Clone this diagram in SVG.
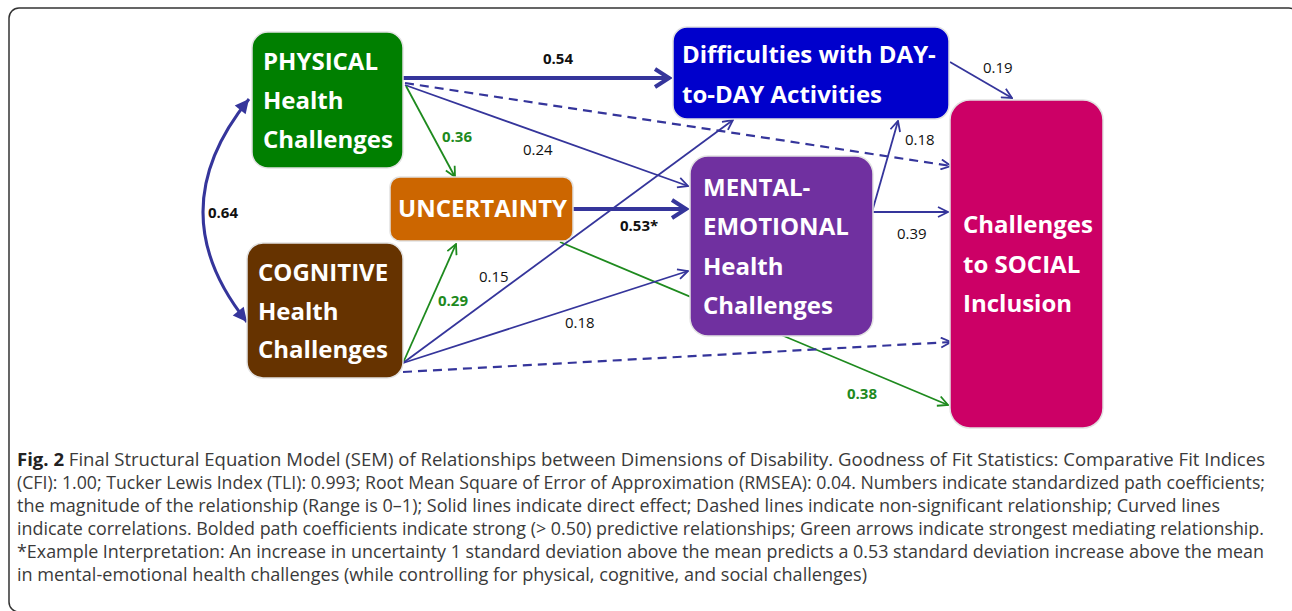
<svg xmlns="http://www.w3.org/2000/svg" width="1292" height="611" viewBox="0 0 1292 611">
<style>
.nt{font-family:"Open Sans","Liberation Sans",sans-serif;font-weight:700;font-size:24px;fill:#ffffff}
.lb{font-family:"Open Sans","Liberation Sans",sans-serif;font-size:15px;fill:#111}
.b{font-weight:700}
.g{fill:#1E8A1E}
.cap{font-family:"Open Sans","Liberation Sans",sans-serif;font-size:17.5px;fill:#3a3a3a}
.ln{fill:none;stroke:#35359B;stroke-width:1.8}
.th{fill:none;stroke:#35359B;stroke-width:4}
.ds{fill:none;stroke:#35359B;stroke-width:2.2;stroke-dasharray:9 6}
.gr{fill:none;stroke:#1E8A1E;stroke-width:1.8}
.box{stroke:#e2e2e2;stroke-width:1.5}
</style>
<defs>
<marker id="a" viewBox="0 0 12 12" refX="11" refY="6" markerWidth="12" markerHeight="12" markerUnits="userSpaceOnUse" orient="auto"><path d="M1,1 L11,6 L1,11" fill="none" stroke="#35359B" stroke-width="1.8"/></marker>
<marker id="ag" viewBox="0 0 12 12" refX="11" refY="6" markerWidth="12" markerHeight="12" markerUnits="userSpaceOnUse" orient="auto"><path d="M1,1 L11,6 L1,11" fill="none" stroke="#1E8A1E" stroke-width="1.8"/></marker>
<marker id="at" viewBox="0 0 20 22" refX="18" refY="11" markerWidth="20" markerHeight="22" markerUnits="userSpaceOnUse" orient="auto"><path d="M3,2 L17,11 L3,20" fill="none" stroke="#35359B" stroke-width="4"/></marker>
<marker id="ac" viewBox="0 0 16 16" refX="15" refY="8" markerWidth="16" markerHeight="16" markerUnits="userSpaceOnUse" orient="auto-start-reverse"><path d="M1,1 L15,8 L1,15 Z" fill="#35359B"/></marker>
</defs>
<rect x="9" y="8" width="1290" height="604" rx="10" fill="#ffffff" stroke="#333" stroke-width="1.5"/>

<g id="connectors">
<path class="th" d="M403,78 L670,78" marker-end="url(#at)"/>
<path class="ds" d="M405,83 L951,166" marker-end="url(#a)"/>
<path class="ln" d="M405,85 L688,186" marker-end="url(#a)"/>
<path class="gr" d="M406,86 L455,177" marker-end="url(#ag)"/>
<path class="th" d="M573,209 L687,209" marker-end="url(#at)"/>
<path class="gr" d="M560,242 L948,405" marker-end="url(#ag)"/>
<path class="gr" d="M403,363 L456,244" marker-end="url(#ag)"/>
<path class="ln" d="M403,363 L733,120" marker-end="url(#a)"/>
<path class="ln" d="M403,363 L688,271" marker-end="url(#a)"/>
<path class="ds" d="M403,372 L951,342" marker-end="url(#a)"/>
<path class="ln" d="M872,212 L898,121" marker-end="url(#a)"/>
<path class="ln" d="M872,212 L948,212" marker-end="url(#a)"/>
<path class="ln" d="M950,62 L1012,98" marker-end="url(#a)"/>
<path d="M249,99 Q158,211 247,322" fill="none" stroke="#35359B" stroke-width="3" marker-start="url(#ac)" marker-end="url(#ac)"/>
</g>

<g id="labels">
<text class="lb b" x="543" y="64">0.54</text>
<text class="lb b g" x="442" y="142">0.36</text>
<text class="lb" x="523" y="155">0.24</text>
<text class="lb b" x="208" y="218">0.64</text>
<text class="lb b" x="620" y="231">0.53*</text>
<text class="lb" x="479" y="282">0.15</text>
<text class="lb b g" x="438" y="306">0.29</text>
<text class="lb" x="565" y="328">0.18</text>
<text class="lb" x="905" y="145">0.18</text>
<text class="lb" x="983" y="73">0.19</text>
<text class="lb" x="897" y="239">0.39</text>
<text class="lb b g" x="847" y="399">0.38</text>
</g>

<g id="physical">
<rect class="box" x="252" y="32" width="151" height="136" rx="16" fill="#007F00"/>
<text class="nt" x="263" y="70">PHYSICAL</text>
<text class="nt" x="263" y="109">Health</text>
<text class="nt" x="263" y="148">Challenges</text>
</g>
<g id="uncertainty">
<rect class="box" x="390" y="177" width="183" height="64" rx="10" fill="#CC6600"/>
<text class="nt" x="398" y="217">UNCERTAINTY</text>
</g>
<g id="cognitive">
<rect class="box" x="247" y="243" width="156" height="135" rx="16" fill="#663300"/>
<text class="nt" x="258" y="281">COGNITIVE</text>
<text class="nt" x="258" y="320">Health</text>
<text class="nt" x="258" y="358">Challenges</text>
</g>
<g id="daytoday">
<rect class="box" x="673" y="27" width="276" height="92" rx="14" fill="#0000CC"/>
<text class="nt" x="682" y="63">Difficulties with DAY-</text>
<text class="nt" x="682" y="103">to-DAY Activities</text>
</g>
<g id="mental">
<rect class="box" x="690" y="156" width="183" height="180" rx="18" fill="#7030A0"/>
<text class="nt" x="703" y="196">MENTAL-</text>
<text class="nt" x="703" y="235">EMOTIONAL</text>
<text class="nt" x="703" y="275">Health</text>
<text class="nt" x="703" y="314">Challenges</text>
</g>
<g id="social">
<rect class="box" x="950" y="100" width="153" height="328" rx="20" fill="#CC0066"/>
<text class="nt" x="963" y="233">Challenges</text>
<text class="nt" x="963" y="273">to SOCIAL</text>
<text class="nt" x="963" y="312">Inclusion</text>
</g>

<g id="caption">
<text class="cap" x="17" y="466" textLength="1248" lengthAdjust="spacingAndGlyphs"><tspan font-weight="700" fill="#222">Fig. 2</tspan> Final Structural Equation Model (SEM) of Relationships between Dimensions of Disability. Goodness of Fit Statistics: Comparative Fit Indices</text>
<text class="cap" x="17" y="489" textLength="1248" lengthAdjust="spacingAndGlyphs">(CFI): 1.00; Tucker Lewis Index (TLI): 0.993; Root Mean Square of Error of Approximation (RMSEA): 0.04. Numbers indicate standardized path coefficients;</text>
<text class="cap" x="17" y="512" textLength="1203" lengthAdjust="spacingAndGlyphs">the magnitude of the relationship (Range is 0–1); Solid lines indicate direct effect; Dashed lines indicate non-significant relationship; Curved lines</text>
<text class="cap" x="17" y="535" textLength="1247" lengthAdjust="spacingAndGlyphs">indicate correlations. Bolded path coefficients indicate strong (&gt; 0.50) predictive relationships; Green arrows indicate strongest mediating relationship.</text>
<text class="cap" x="17" y="558" textLength="1247" lengthAdjust="spacingAndGlyphs">*Example Interpretation: An increase in uncertainty 1 standard deviation above the mean predicts a 0.53 standard deviation increase above the mean</text>
<text class="cap" x="17" y="581" textLength="850" lengthAdjust="spacingAndGlyphs">in mental-emotional health challenges (while controlling for physical, cognitive, and social challenges)</text>
</g>
</svg>
